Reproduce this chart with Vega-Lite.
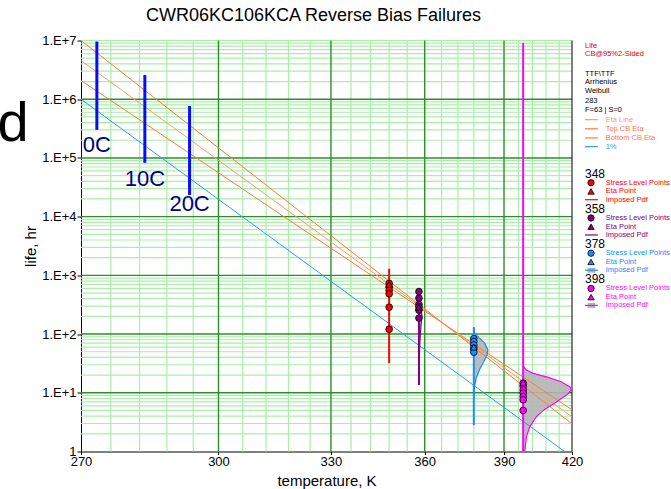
{
  "$schema": "https://vega.github.io/schema/vega-lite/v6.json",
  "width": 491,
  "height": 411,
  "autosize": {"type": "none"},
  "padding": {"left": 81, "top": 40.5, "right": 99, "bottom": 37.5},
  "background": "#ffffff",
  "config": {"view": {"stroke": null}, "font": "Liberation Sans"},
  "title": {
    "text": "CWR06KC106KCA Reverse Bias Failures",
    "font": "Liberation Sans", "fontSize": 18, "fontWeight": "normal", "color": "#000000",
    "anchor": "middle", "frame": "group", "dx": -13, "dy": 21, "offset": 17, "baseline": "alphabetic"
  },
  "datasets": {
    "xMinor": [{"T":276},{"T":282},{"T":288},{"T":294},{"T":306},{"T":312},{"T":318},{"T":324},{"T":336},{"T":342},{"T":348},{"T":354},{"T":366},{"T":372},{"T":378},{"T":384},{"T":396},{"T":402},{"T":408},{"T":414}],
    "xMajor": [{"T":300},{"T":330},{"T":360},{"T":390}],
    "xEdge": [{"T":420}],
    "yMinor": [{"life":2},{"life":3},{"life":4},{"life":5},{"life":6},{"life":7},{"life":8},{"life":9},
      {"life":20},{"life":30},{"life":40},{"life":50},{"life":60},{"life":70},{"life":80},{"life":90},
      {"life":200},{"life":300},{"life":400},{"life":500},{"life":600},{"life":700},{"life":800},{"life":900},
      {"life":2000},{"life":3000},{"life":4000},{"life":5000},{"life":6000},{"life":7000},{"life":8000},{"life":9000},
      {"life":20000},{"life":30000},{"life":40000},{"life":50000},{"life":60000},{"life":70000},{"life":80000},{"life":90000},
      {"life":200000},{"life":300000},{"life":400000},{"life":500000},{"life":600000},{"life":700000},{"life":800000},{"life":900000},
      {"life":2000000},{"life":3000000},{"life":4000000},{"life":5000000},{"life":6000000},{"life":7000000},{"life":8000000},{"life":9000000},
      {"life":10000000}],
    "yMajor": [{"life":10},{"life":100},{"life":1000},{"life":10000},{"life":100000},{"life":1000000}],
    "lines": [
      {"s":"topcb","T":270,"life":10000000},{"s":"topcb","T":420,"life":2.95},
      {"s":"eta","T":270,"life":4560000},{"s":"eta","T":420,"life":3.88},
      {"s":"botcb","T":270,"life":2080000},{"s":"botcb","T":420,"life":5.12},
      {"s":"p1","T":270,"life":1000000},{"s":"p1","T":416.5,"life":1}
    ],
    "cal": [
      {"label":"0C","T":273.15,"lo":301000,"hi":9600000,"ty":128000},
      {"label":"10C","T":283.15,"lo":82600,"hi":2580000,"ty":33700},
      {"label":"20C","T":293.15,"lo":23400,"hi":766000,"ty":12600}
    ],
    "pdfLines": [
      {"g":"348","T":348,"lo":31.9,"hi":1291},
      {"g":"358","T":358,"lo":13.6,"hi":566},
      {"g":"378","T":378,"lo":2.8,"hi":131},
      {"g":"398","T":398,"lo":1,"hi":9100000}
    ],
    "pdf": [
      {"g":"358","Tb":358,"T":358,"life":600},
      {"g":"358","Tb":358,"T":358.17,"life":383},
      {"g":"358","Tb":358,"T":358.7,"life":279},
      {"g":"358","Tb":358,"T":359.04,"life":204},
      {"g":"358","Tb":358,"T":358.7,"life":138},
      {"g":"358","Tb":358,"T":358.35,"life":80},
      {"g":"358","Tb":358,"T":358.1,"life":36},
      {"g":"358","Tb":358,"T":358,"life":13.6},
      {"g":"378","Tb":378,"T":378,"life":131},
      {"g":"378","Tb":378,"T":378.3,"life":103},
      {"g":"378","Tb":378,"T":380.2,"life":85.1},
      {"g":"378","Tb":378,"T":382.2,"life":70},
      {"g":"378","Tb":378,"T":383.5,"life":53.8},
      {"g":"378","Tb":378,"T":383.2,"life":44.2},
      {"g":"378","Tb":378,"T":381.9,"life":34},
      {"g":"378","Tb":378,"T":380.2,"life":24.6},
      {"g":"378","Tb":378,"T":378.9,"life":17.7},
      {"g":"378","Tb":378,"T":378.3,"life":12.8},
      {"g":"378","Tb":378,"T":378,"life":8},
      {"g":"398","Tb":398,"T":398,"life":32},
      {"g":"398","Tb":398,"T":398.3,"life":27.7},
      {"g":"398","Tb":398,"T":399.4,"life":24.3},
      {"g":"398","Tb":398,"T":402.3,"life":21.4},
      {"g":"398","Tb":398,"T":409,"life":18.3},
      {"g":"398","Tb":398,"T":414.9,"life":15.4},
      {"g":"398","Tb":398,"T":419,"life":12.6},
      {"g":"398","Tb":398,"T":419.7,"life":11.1},
      {"g":"398","Tb":398,"T":417.4,"life":9.14},
      {"g":"398","Tb":398,"T":412,"life":6.73},
      {"g":"398","Tb":398,"T":407.5,"life":5.26},
      {"g":"398","Tb":398,"T":403.8,"life":3.94},
      {"g":"398","Tb":398,"T":400.9,"life":2.66},
      {"g":"398","Tb":398,"T":399.4,"life":1.79},
      {"g":"398","Tb":398,"T":398.7,"life":1}
    ],
    "pts": [
      {"g":"348","k":"pt","T":348,"life":731},{"g":"348","k":"pt","T":348,"life":638},{"g":"348","k":"pt","T":348,"life":556},
      {"g":"348","k":"pt","T":348,"life":484},{"g":"348","k":"pt","T":348,"life":287},{"g":"348","k":"pt","T":348,"life":121},
      {"g":"358","k":"pt","T":358,"life":530},{"g":"358","k":"pt","T":358,"life":409},{"g":"358","k":"pt","T":358,"life":320},
      {"g":"358","k":"pt","T":358,"life":290},{"g":"358","k":"pt","T":358,"life":255},{"g":"358","k":"pt","T":358,"life":187},
      {"g":"378","k":"pt","T":378,"life":83.7},{"g":"378","k":"pt","T":378,"life":74.5},{"g":"378","k":"pt","T":378,"life":65.4},
      {"g":"378","k":"pt","T":378,"life":57.5},{"g":"378","k":"pt","T":378,"life":49.2},
      {"g":"398","k":"pt","T":398,"life":14.6},{"g":"398","k":"pt","T":398,"life":12.8},{"g":"398","k":"pt","T":398,"life":11.2},
      {"g":"398","k":"pt","T":398,"life":9.9},{"g":"398","k":"pt","T":398,"life":8.6},{"g":"398","k":"pt","T":398,"life":7.6},
      {"g":"398","k":"pt","T":398,"life":5.0},
      {"g":"348","k":"eta","T":348,"life":701},
      {"g":"358","k":"eta","T":358,"life":287},
      {"g":"378","k":"eta","T":378,"life":60},
      {"g":"398","k":"eta","T":398,"life":15}
    ],
    "legText": [
      {"row":0.6,"col":0,"label":"Life","key":"life"},
      {"row":1.55,"col":0,"label":"CB@95%2-Sided","key":"life"},
      {"row":3.9,"col":0,"label":"TTF\\TTF","key":"info"},
      {"row":4.8,"col":0,"label":"Arrhenius","key":"info"},
      {"row":5.8,"col":0,"label":"Weibull","key":"info"},
      {"row":6.9,"col":0,"label":"283","key":"info"},
      {"row":8.0,"col":0,"label":"F=63 | S=0","key":"info"},
      {"row":9.1,"col":0.24,"label":"Eta Line","key":"eta"},
      {"row":10.15,"col":0.24,"label":"Top CB Eta","key":"topcb"},
      {"row":11.2,"col":0.24,"label":"Bottom CB Eta","key":"botcb"},
      {"row":12.2,"col":0.24,"label":"1%","key":"p1"},
      {"row":16.35,"col":0.24,"label":"Stress Level Points","key":"348"},
      {"row":17.35,"col":0.24,"label":"Eta Point","key":"348"},
      {"row":18.3,"col":0.24,"label":"Imposed Pdf","key":"348"},
      {"row":20.4,"col":0.24,"label":"Stress Level Points","key":"358"},
      {"row":21.4,"col":0.24,"label":"Eta Point","key":"358"},
      {"row":22.35,"col":0.24,"label":"Imposed Pdf","key":"358"},
      {"row":24.45,"col":0.24,"label":"Stress Level Points","key":"378"},
      {"row":25.45,"col":0.24,"label":"Eta Point","key":"378"},
      {"row":26.4,"col":0.24,"label":"Imposed Pdf","key":"378"},
      {"row":28.5,"col":0.24,"label":"Stress Level Points","key":"398"},
      {"row":29.5,"col":0.24,"label":"Eta Point","key":"398"},
      {"row":30.45,"col":0.24,"label":"Imposed Pdf","key":"398"}
    ],
    "legHead": [
      {"row":15.3,"col":0,"label":"348"},
      {"row":19.35,"col":0,"label":"358"},
      {"row":23.4,"col":0,"label":"378"},
      {"row":27.45,"col":0,"label":"398"}
    ],
    "legSeg": [
      {"row":9.1,"x0":0,"x1":0.15,"key":"eta"},
      {"row":10.15,"x0":0,"x1":0.15,"key":"topcb"},
      {"row":11.2,"x0":0,"x1":0.15,"key":"botcb"},
      {"row":12.2,"x0":0,"x1":0.15,"key":"p1"},
      {"row":18.3,"x0":0,"x1":0.15,"key":"348"},
      {"row":22.35,"x0":0,"x1":0.15,"key":"358"},
      {"row":26.4,"x0":0,"x1":0.15,"key":"378"},
      {"row":30.45,"x0":0,"x1":0.15,"key":"398"}
    ],
    "legBox": [
      {"row":26.4,"x0":0.03,"x1":0.12},
      {"row":30.45,"x0":0.03,"x1":0.12}
    ],
    "legSym": [
      {"row":16.35,"col":0.07,"key":"348","k":"pt"},{"row":17.35,"col":0.07,"key":"348","k":"eta"},
      {"row":20.4,"col":0.07,"key":"358","k":"pt"},{"row":21.4,"col":0.07,"key":"358","k":"eta"},
      {"row":24.45,"col":0.07,"key":"378","k":"pt"},{"row":25.45,"col":0.07,"key":"378","k":"eta"},
      {"row":28.5,"col":0.07,"key":"398","k":"pt"},{"row":29.5,"col":0.07,"key":"398","k":"eta"}
    ],
    "legBig": [{"row":11.55,"col":-6.83,"label":"d"}]
  },
  "layer": [
    {
      "data": {"name": "yMinor"},
      "mark": {"type": "rule", "color": "#a9efa9", "strokeWidth": 1.2},
      "encoding": {
        "y": {"field": "life", "type": "quantitative",
          "scale": {"type": "log", "domain": [1, 10000000], "nice": false},
          "axis": {"title": "life, hr", "orient": "left", "values": [1,10,100,1000,10000,100000,1000000,10000000],
            "labelExpr": "datum.value <= 1 ? '1' : '1.E+' + round(log(datum.value) / LN10)",
            "grid": false, "domainColor": "#000000", "tickColor": "#000000", "tickSize": 4,
            "labelPadding": 1, "labelFont": "Liberation Sans", "labelFontSize": 13, "labelColor": "#000000",
            "labelFlush": false, "labelOverlap": false,
            "titleFont": "Liberation Sans", "titleFontSize": 15, "titleFontWeight": "normal", "titleColor": "#000000",
            "titlePadding": 3}}
      }
    },
    {
      "data": {"name": "xMinor"},
      "mark": {"type": "rule", "color": "#a9efa9", "strokeWidth": 1.2},
      "encoding": {
        "x": {"field": "T", "type": "quantitative",
          "scale": {"type": "pow", "exponent": -1, "domain": [270, 420], "nice": false, "zero": false},
          "axis": {"title": "temperature, K", "orient": "bottom", "values": [270,300,330,360,390,420], "format": "d",
            "grid": false, "domainColor": "#000000", "tickColor": "#000000", "tickSize": 3,
            "labelPadding": 1, "labelFont": "Liberation Sans", "labelFontSize": 13, "labelColor": "#000000",
            "labelFlush": false, "labelOverlap": false,
            "titleFont": "Liberation Sans", "titleFontSize": 15, "titleFontWeight": "normal", "titleColor": "#000000",
            "titlePadding": 5}}
      }
    },
    {
      "data": {"name": "yMajor"},
      "mark": {"type": "rule", "color": "#2b8f2b", "strokeWidth": 1.4},
      "encoding": {
        "y": {"field": "life", "type": "quantitative", "scale": {"type": "log", "domain": [1, 10000000], "nice": false}, "axis": null}
      }
    },
    {
      "data": {"name": "xMajor"},
      "mark": {"type": "rule", "color": "#2b8f2b", "strokeWidth": 1.4},
      "encoding": {
        "x": {"field": "T", "type": "quantitative", "scale": {"type": "pow", "exponent": -1, "domain": [270, 420], "nice": false, "zero": false}, "axis": null}
      }
    },
    {
      "data": {"name": "xEdge"},
      "mark": {"type": "rule", "color": "#000000", "strokeWidth": 1},
      "encoding": {
        "x": {"field": "T", "type": "quantitative", "scale": {"type": "pow", "exponent": -1, "domain": [270, 420], "nice": false, "zero": false}, "axis": null}
      }
    },
    {
      "data": {"name": "pdf"},
      "mark": {"type": "area", "orient": "horizontal", "color": "#b4b4b4", "opacity": 0.9, "clip": true},
      "encoding": {
        "x": {"field": "T", "type": "quantitative", "scale": {"type": "pow", "exponent": -1, "domain": [270, 420], "nice": false, "zero": false}, "axis": null},
        "x2": {"field": "Tb"},
        "y": {"field": "life", "type": "quantitative", "scale": {"type": "log", "domain": [1, 10000000], "nice": false}, "axis": null},
        "detail": {"field": "g", "type": "nominal"}
      }
    },
    {
      "data": {"name": "lines"},
      "mark": {"type": "line", "strokeWidth": 1, "clip": true},
      "encoding": {
        "x": {"field": "T", "type": "quantitative", "scale": {"type": "pow", "exponent": -1, "domain": [270, 420], "nice": false, "zero": false}, "axis": null},
        "y": {"field": "life", "type": "quantitative", "scale": {"type": "log", "domain": [1, 10000000], "nice": false}, "axis": null},
        "color": {"field": "s", "type": "nominal", "legend": null,
          "scale": {"domain": ["348","358","378","398","eta","topcb","botcb","p1","life","info"],
                    "range": ["#ff0000","#800080","#1a8cff","#ff00ff","#ff9a66","#ff7a3a","#ff7a3a","#3399ff","#e00000","#000000"]}}
      }
    },
    {
      "data": {"name": "cal"},
      "mark": {"type": "rule", "color": "#0a0aff", "strokeWidth": 3},
      "encoding": {
        "x": {"field": "T", "type": "quantitative", "scale": {"type": "pow", "exponent": -1, "domain": [270, 420], "nice": false, "zero": false}, "axis": null},
        "y": {"field": "lo", "type": "quantitative", "scale": {"type": "log", "domain": [1, 10000000], "nice": false}, "axis": null},
        "y2": {"field": "hi"}
      }
    },
    {
      "data": {"name": "cal"},
      "mark": {"type": "text", "color": "#000080", "font": "Liberation Sans", "fontSize": 22, "align": "center", "baseline": "alphabetic"},
      "encoding": {
        "x": {"field": "T", "type": "quantitative", "scale": {"type": "pow", "exponent": -1, "domain": [270, 420], "nice": false, "zero": false}, "axis": null},
        "y": {"field": "ty", "type": "quantitative", "scale": {"type": "log", "domain": [1, 10000000], "nice": false}, "axis": null},
        "text": {"field": "label"}
      }
    },
    {
      "data": {"name": "pdfLines"},
      "mark": {"type": "rule", "strokeWidth": 2, "clip": true},
      "encoding": {
        "x": {"field": "T", "type": "quantitative", "scale": {"type": "pow", "exponent": -1, "domain": [270, 420], "nice": false, "zero": false}, "axis": null},
        "y": {"field": "lo", "type": "quantitative", "scale": {"type": "log", "domain": [1, 10000000], "nice": false}, "axis": null},
        "y2": {"field": "hi"},
        "color": {"field": "g", "type": "nominal", "legend": null,
          "scale": {"domain": ["348","358","378","398","eta","topcb","botcb","p1","life","info"],
                    "range": ["#ff0000","#800080","#1a8cff","#ff00ff","#ff9a66","#ff7a3a","#ff7a3a","#3399ff","#e00000","#000000"]}}
      }
    },
    {
      "data": {"name": "pdf"},
      "mark": {"type": "line", "strokeWidth": 1.2, "clip": true},
      "encoding": {
        "x": {"field": "T", "type": "quantitative", "scale": {"type": "pow", "exponent": -1, "domain": [270, 420], "nice": false, "zero": false}, "axis": null},
        "y": {"field": "life", "type": "quantitative", "scale": {"type": "log", "domain": [1, 10000000], "nice": false}, "axis": null},
        "order": {"field": "life", "type": "quantitative"},
        "color": {"field": "g", "type": "nominal", "legend": null,
          "scale": {"domain": ["348","358","378","398","eta","topcb","botcb","p1","life","info"],
                    "range": ["#ff0000","#800080","#1a8cff","#ff00ff","#ff9a66","#ff7a3a","#ff7a3a","#3399ff","#e00000","#000000"]}}
      }
    },
    {
      "data": {"name": "pts"},
      "mark": {"type": "point", "filled": true, "opacity": 1, "stroke": "#000000", "strokeWidth": 0.8, "size": 45, "clip": true},
      "encoding": {
        "x": {"field": "T", "type": "quantitative", "scale": {"type": "pow", "exponent": -1, "domain": [270, 420], "nice": false, "zero": false}, "axis": null},
        "y": {"field": "life", "type": "quantitative", "scale": {"type": "log", "domain": [1, 10000000], "nice": false}, "axis": null},
        "shape": {"field": "k", "type": "nominal", "legend": null, "scale": {"domain": ["pt","eta"], "range": ["circle","triangle-up"]}},
        "color": {"field": "g", "type": "nominal", "legend": null,
          "scale": {"domain": ["348","358","378","398","eta","topcb","botcb","p1","life","info"],
                    "range": ["#ff0000","#800080","#1a8cff","#ff00ff","#ff9a66","#ff7a3a","#ff7a3a","#3399ff","#e00000","#000000"]}}
      }
    },
    {
      "data": {"name": "legBox"},
      "mark": {"type": "rule", "color": "#b4b4b4", "strokeWidth": 5},
      "encoding": {
        "x": {"field": "x0", "type": "quantitative", "scale": {"domain": [0, 1], "range": [504, 590], "nice": false, "zero": false}, "axis": null},
        "x2": {"field": "x1"},
        "y": {"field": "row", "type": "quantitative", "scale": {"domain": [0, 47.24], "reverse": true, "nice": false, "zero": false}, "axis": null}
      }
    },
    {
      "data": {"name": "legSeg"},
      "mark": {"type": "rule", "strokeWidth": 1.2},
      "encoding": {
        "x": {"field": "x0", "type": "quantitative", "scale": {"domain": [0, 1], "range": [504, 590], "nice": false, "zero": false}, "axis": null},
        "x2": {"field": "x1"},
        "y": {"field": "row", "type": "quantitative", "scale": {"domain": [0, 47.24], "reverse": true, "nice": false, "zero": false}, "axis": null},
        "color": {"field": "key", "type": "nominal", "legend": null,
          "scale": {"domain": ["348","358","378","398","eta","topcb","botcb","p1","life","info"],
                    "range": ["#ff0000","#800080","#1a8cff","#ff00ff","#ff9a66","#ff7a3a","#ff7a3a","#3399ff","#e00000","#000000"]}}
      }
    },
    {
      "data": {"name": "legSym"},
      "mark": {"type": "point", "filled": true, "opacity": 1, "stroke": "#000000", "strokeWidth": 0.8, "size": 40},
      "encoding": {
        "x": {"field": "col", "type": "quantitative", "scale": {"domain": [0, 1], "range": [504, 590], "nice": false, "zero": false}, "axis": null},
        "y": {"field": "row", "type": "quantitative", "scale": {"domain": [0, 47.24], "reverse": true, "nice": false, "zero": false}, "axis": null},
        "shape": {"field": "k", "type": "nominal", "legend": null, "scale": {"domain": ["pt","eta"], "range": ["circle","triangle-up"]}},
        "color": {"field": "key", "type": "nominal", "legend": null,
          "scale": {"domain": ["348","358","378","398","eta","topcb","botcb","p1","life","info"],
                    "range": ["#ff0000","#800080","#1a8cff","#ff00ff","#ff9a66","#ff7a3a","#ff7a3a","#3399ff","#e00000","#000000"]}}
      }
    },
    {
      "data": {"name": "legText"},
      "mark": {"type": "text", "font": "Liberation Sans", "fontSize": 7.5, "align": "left", "baseline": "middle"},
      "encoding": {
        "x": {"field": "col", "type": "quantitative", "scale": {"domain": [0, 1], "range": [504, 590], "nice": false, "zero": false}, "axis": null},
        "y": {"field": "row", "type": "quantitative", "scale": {"domain": [0, 47.24], "reverse": true, "nice": false, "zero": false}, "axis": null},
        "text": {"field": "label"},
        "color": {"field": "key", "type": "nominal", "legend": null,
          "scale": {"domain": ["348","358","378","398","eta","topcb","botcb","p1","life","info"],
                    "range": ["#ff0000","#800080","#1a8cff","#ff00ff","#ff9a66","#ff7a3a","#ff7a3a","#3399ff","#e00000","#000000"]}}
      }
    },
    {
      "data": {"name": "legHead"},
      "mark": {"type": "text", "font": "Liberation Sans", "fontSize": 12, "align": "left", "baseline": "middle", "color": "#000000"},
      "encoding": {
        "x": {"field": "col", "type": "quantitative", "scale": {"domain": [0, 1], "range": [504, 590], "nice": false, "zero": false}, "axis": null},
        "y": {"field": "row", "type": "quantitative", "scale": {"domain": [0, 47.24], "reverse": true, "nice": false, "zero": false}, "axis": null},
        "text": {"field": "label"}
      }
    },
    {
      "data": {"name": "legBig"},
      "mark": {"type": "text", "font": "Liberation Sans", "fontSize": 56, "align": "left", "baseline": "alphabetic", "color": "#000000"},
      "encoding": {
        "x": {"field": "col", "type": "quantitative", "scale": {"domain": [0, 1], "range": [504, 590], "nice": false, "zero": false}, "axis": null},
        "y": {"field": "row", "type": "quantitative", "scale": {"domain": [0, 47.24], "reverse": true, "nice": false, "zero": false}, "axis": null},
        "text": {"field": "label"}
      }
    }
  ],
  "resolve": {"scale": {"x": "independent", "y": "independent"}}
}
